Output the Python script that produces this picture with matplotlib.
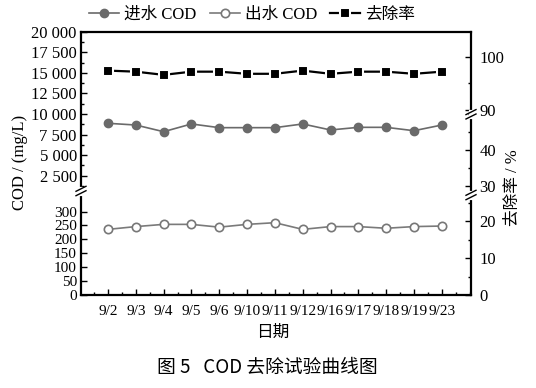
import numpy as np
import matplotlib.pyplot as plt
from matplotlib.ticker import MultipleLocator

plt.rcParams['font.family'] = ['Liberation Serif', 'Noto Sans CJK SC']
plt.rcParams['xtick.direction'] = 'in'
plt.rcParams['ytick.direction'] = 'in'

# data
dates = ['9/2', '9/3', '9/4', '9/5', '9/6', '9/10', '9/11', '9/12',
         '9/16', '9/17', '9/18', '9/19', '9/23']
cod_in = [8870, 8660, 7850, 8790, 8340, 8340, 8340, 8790, 8060, 8380, 8380, 7970, 8660]
cod_out = [236, 246, 254, 254, 244, 254, 260, 236, 246, 246, 240, 246, 248]
removal = [97.4, 97.2, 96.6, 97.2, 97.2, 96.8, 96.8, 97.4, 96.8, 97.2, 97.2, 96.8, 97.2]

hi_ticks = [2500, 5000, 7500, 10000, 12500, 15000, 17500, 20000]
lo_ticks = [0, 50, 100, 150, 200, 250, 300]

W, H = 536, 388
fig = plt.figure(figsize=(W / 100, H / 100), dpi=100)
x0, x1 = 81, 471


def box(top, bot):
    return [x0 / W, 1 - bot / H, (x1 - x0) / W, (bot - top) / H]


ax_hi = fig.add_axes(box(31.7, 191))
ax_lo = fig.add_axes(box(191, 295))
r_hi = fig.add_axes(box(31.7, 114.3))
r_mid = fig.add_axes(box(114.3, 195))
r_lo = fig.add_axes(box(195, 295))
allax = [ax_hi, ax_lo, r_hi, r_mid, r_lo]

x = np.arange(len(dates))
for a in allax:
    a.set_xlim(-0.97, 13.05)
    a.patch.set_visible(False)
    for s in a.spines.values():
        s.set_linewidth(1.6)
        s.set_visible(False)
    a.tick_params(which='both', labelsize=12, width=1, pad=3)
    a.tick_params(which='major', length=4)
    a.tick_params(which='minor', length=2)
    a.tick_params(axis='x', which='both', bottom=False, labelbottom=False)

# left scales
ax_hi.spines['left'].set_visible(True)
ax_hi.spines['top'].set_visible(True)
ax_lo.spines['left'].set_visible(True)
ax_lo.spines['bottom'].set_visible(True)

ax_hi.set_ylim(644, 20000)
ax_hi.set_yticks(hi_ticks)
ax_hi.set_yticklabels([f'{v:,}'.replace(',', ' ') for v in hi_ticks])
ax_hi.yaxis.set_minor_locator(MultipleLocator(1250))

ax_lo.set_ylim(0, 374)
ax_lo.set_yticks(lo_ticks)
ax_lo.tick_params(axis='y', labelsize=11)
ax_lo.set_xticks(x)
ax_lo.set_xticklabels(dates)
ax_lo.xaxis.set_minor_locator(MultipleLocator(0.5))
ax_lo.tick_params(axis='x', which='both', bottom=True, labelbottom=True, pad=7, labelsize=11)

# right scales
for a, lim, ticks in [(r_hi, (89.2, 104.7), [90, 100]),
                      (r_mid, (27.4, 50), [30, 40]),
                      (r_lo, (0, 27.2), [0, 10, 20])]:
    a.spines['right'].set_visible(True)
    a.yaxis.tick_right()
    a.set_ylim(*lim)
    a.set_yticks(ticks)
    a.yaxis.set_minor_locator(MultipleLocator(5))
    a.tick_params(axis='y', which='both', pad=6)

# series
l_in, = ax_hi.plot(x, cod_in, '-o', color='#6a6a6a', lw=1.2, ms=6,
                   mec='#6a6a6a', clip_on=False, zorder=4)
l_out, = ax_lo.plot(x, cod_out, '-o', color='#7a7a7a', lw=1.2, ms=6,
                    mfc='white', mec='#777777', mew=1.2, clip_on=False, zorder=4)
l_rm, = r_hi.plot(x, removal, '-s', color='black', lw=1.6, ms=7.5,
                  mfc='black', mec='white', mew=1.5, clip_on=False, zorder=4)


def brk(a, xa, ya):
    bb = a.get_position()
    sx = 1 / (bb.width * W)
    sy = 1 / (bb.height * H)
    kw = dict(transform=a.transAxes, clip_on=False, zorder=6)
    a.plot([xa, xa], [ya - 2.5 * sy, ya + 2.5 * sy], color='white', lw=3, **kw)
    for off in (-2.2, 2.2):
        a.plot([xa - 5 * sx, xa + 5 * sx], [ya + (off - 2.5) * sy, ya + (off + 2.5) * sy],
               color='black', lw=1, **kw)


brk(ax_lo, 0, 1)
brk(r_mid, 1, 1)
brk(r_lo, 1, 1)

fig.text(20 / W, 1 - 162 / H, 'COD / (mg/L)', rotation=90, ha='center', va='center', fontsize=12)
fig.text(513 / W, 1 - 188 / H, '去除率 / %', rotation=90, ha='center', va='center', fontsize=12)
fig.text(273 / W, 1 - 333 / H, '日期', ha='center', va='center', fontsize=12)
fig.text(267 / W, 1 - 367 / H, '图 5   COD 去除试验曲线图', ha='center', va='center',
         fontsize=13.5, family=['Noto Sans CJK SC'])

fig.legend([l_in, l_out, l_rm], ['进水 COD', '出水 COD', '去除率'],
           loc='center', bbox_to_anchor=(252 / W, 1 - 15 / H), ncol=3, frameon=False,
           handlelength=1.8, handletextpad=0.3, columnspacing=0.8, fontsize=12)

fig.savefig('out.png', dpi=100)
